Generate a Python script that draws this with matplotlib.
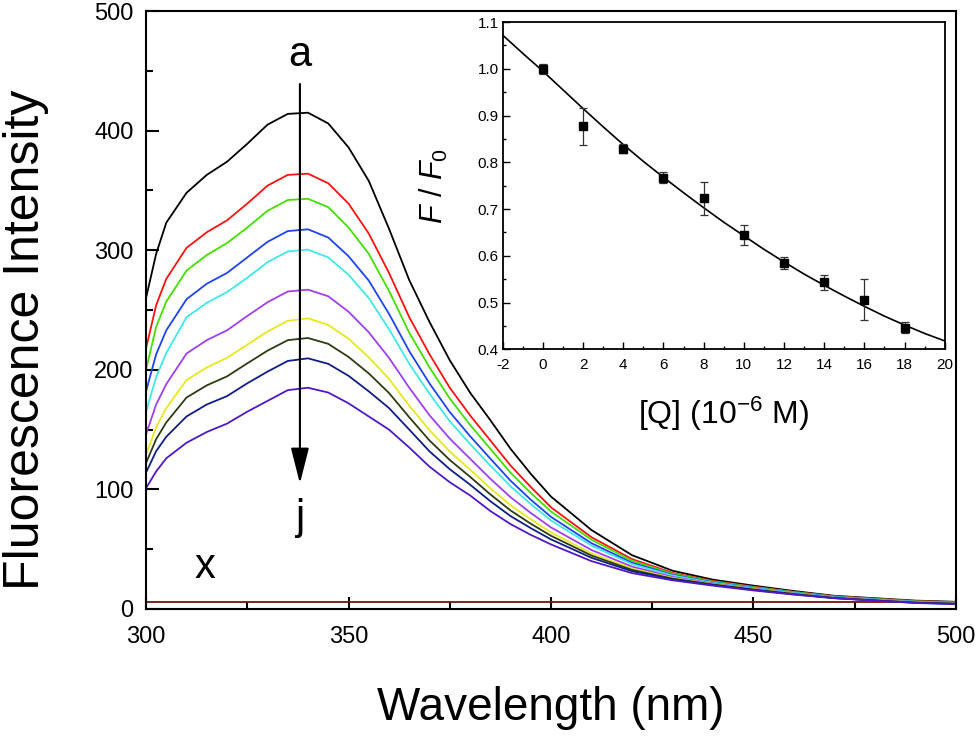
import matplotlib
matplotlib.use('Agg')
import matplotlib.pyplot as plt
from matplotlib.ticker import MultipleLocator, FormatStrFormatter

plt.rcParams['font.family'] = ['Liberation Sans', 'DejaVu Sans']
plt.rcParams['mathtext.fontset'] = 'custom'
plt.rcParams['mathtext.rm'] = 'Liberation Sans'
plt.rcParams['mathtext.it'] = 'Liberation Sans:italic'
plt.rcParams['axes.unicode_minus'] = False

# 스펙트럼 데이터
wavelength = [300, 302.5, 305, 310, 315, 320, 325, 330, 335, 340, 345, 350, 355, 360, 365, 370,
              375, 380, 385, 390, 395, 400, 410, 420, 430, 440, 450, 460, 470, 480, 490, 500]

spec_a = [260, 297, 323, 348, 363, 374, 389, 405, 414, 415, 406, 386, 358, 318, 275, 240,
          208, 181, 158, 134, 113, 94, 66, 45, 32, 24.5, 19.5, 15, 11, 9, 7, 6]
spec_b = [218, 254, 276, 302, 315, 325, 339, 354, 363, 364, 356, 339, 314, 281, 244, 213,
          185, 162, 141, 120, 102, 85, 60, 41.7, 30.2, 23.4, 18.6, 14.3, 10.6, 8.6, 6.6, 5.7]
spec_c = [200, 236, 257, 283, 296, 306, 319, 333, 342, 343, 336, 319, 297, 266, 231, 202,
          176, 154, 134, 114, 97, 81.5, 57.9, 40.3, 29.5, 23, 18.3, 14.1, 10.4, 8.4, 6.4, 5.5]
spec_d = [182, 213, 233, 259, 272, 281, 294, 307, 316, 317.5, 310.6, 295, 274.6, 246.8, 215.6, 188.6,
          164.7, 144.6, 125.8, 107.3, 91.4, 77, 55, 38.7, 28.6, 22.4, 17.8, 13.7, 10.1, 8.1, 6.1, 5.2]
spec_e = [165, 194, 214, 244, 256, 265, 277, 290, 299, 300.5, 294, 279.5, 260, 234, 205, 180,
          157, 138, 120, 102.6, 87.7, 74, 53, 37.5, 28, 22, 17.5, 13.5, 9.9, 7.9, 6, 5.1]
spec_f = [146, 171, 188, 213.6, 224.8, 233, 245, 256.5, 265.5, 267, 261.5, 248.6, 231.4, 210, 185, 162,
          142.5, 125.7, 109, 93.5, 80.3, 68.2, 49.3, 35.4, 26.8, 21.3, 17, 13, 9.6, 7.6, 5.7, 4.8]
spec_g = [129, 152, 168, 191.4, 202, 210, 221, 232, 241, 243, 237.5, 226, 210.5, 192.4, 170, 149.5,
          131.7, 116.6, 101, 86.8, 75, 64, 46.5, 33.8, 26, 20.8, 16.6, 12.7, 9.3, 7.4, 5.5, 4.6]
spec_h = [122, 142, 156, 176.8, 187, 194.5, 205.4, 216, 224.8, 226.6, 221.7, 210.8, 197, 180.6, 160.3, 140.9,
          124.6, 110.6, 95.9, 82.4, 71.3, 61.2, 44.7, 32.7, 25.4, 20.5, 16.3, 12.5, 9.2, 7.2, 5.4, 4.5]
spec_i = [114, 132, 144, 161, 171, 178, 188.7, 198.5, 207.4, 209.6, 205, 195, 182, 168, 150, 131.8,
          116.9, 104, 90.2, 77.7, 67.6, 58.2, 42.8, 31.6, 24.8, 20.1, 16, 12.3, 9.1, 7.1, 5.2, 4.3]
spec_j = [101, 115, 126, 139, 148, 155, 165, 174, 183, 185, 181, 172, 161, 150, 135, 119,
          106, 95, 82, 71, 62, 54, 40, 30, 24, 19.5, 15.5, 12, 9, 7, 5, 4]

# x 곡선 (평탄한 선)
x_wavelength = [300, 400, 500]
x_intensity = [6, 6, 6]

# 인셋 데이터
conc = [0, 2, 4, 6, 8, 10, 12, 14, 16, 18]
ratio = [1.0, 0.877, 0.829, 0.767, 0.723, 0.645, 0.584, 0.544, 0.506, 0.446]
ratio_err = [0.01, 0.04, 0.01, 0.012, 0.035, 0.021, 0.013, 0.016, 0.044, 0.012]
fit_conc = [-2, -1, 0, 1, 2, 3, 4, 5, 6, 7, 8, 9, 10, 11, 12, 13, 14, 15, 16, 17, 18, 19, 20]
fit_ratio = [1.072, 1.033, 0.995, 0.955, 0.915, 0.876, 0.838, 0.802, 0.768, 0.735, 0.703, 0.672,
             0.643, 0.614, 0.587, 0.561, 0.537, 0.514, 0.492, 0.471, 0.452, 0.434, 0.418]

spectra = [spec_a, spec_b, spec_c, spec_d, spec_e, spec_f, spec_g, spec_h, spec_i, spec_j]
colors = ['#000000', '#ff1010', '#44e000', '#1f44f0', '#40e8e8', '#a040f0',
          '#e8e820', '#2e3d10', '#101e88', '#5018c8']

fig = plt.figure(figsize=(9.8, 7.37), dpi=100)
ax = fig.add_axes([0.149, 0.1737, 0.8265, 0.8113])

ax.plot(x_wavelength, x_intensity, color='#7a1010', lw=1.3)
for s, c in zip(spectra, colors):
    ax.plot(wavelength, s, color=c, lw=1.3)

ax.set_xlim(300, 500)
ax.set_ylim(0, 500)
ax.xaxis.set_major_locator(MultipleLocator(50))
ax.xaxis.set_minor_locator(MultipleLocator(25))
ax.yaxis.set_major_locator(MultipleLocator(100))
ax.yaxis.set_minor_locator(MultipleLocator(50))
ax.tick_params(which='both', direction='in', width=1.5)
ax.tick_params(which='major', length=9, labelsize=17)
ax.tick_params(which='minor', length=5)
ax.tick_params(axis='x', pad=12)
ax.tick_params(axis='y', pad=9)
for sp in ax.spines.values():
    sp.set_linewidth(1.5)

ax.set_xlabel('Wavelength (nm)', fontsize=33)
ax.set_ylabel('Fluorescence Intensity', fontsize=36)
ax.xaxis.set_label_coords(0.5, -0.128)
ax.yaxis.set_label_coords(-0.12, 0.45)

# 화살표와 라벨
ax.annotate('', xy=(338, 105), xytext=(338, 439),
            arrowprops=dict(arrowstyle='-|>,head_length=1.1,head_width=0.28',
                            color='black', lw=1.5, mutation_scale=20,
                            shrinkA=0, shrinkB=0))
ax.text(338, 463, 'a', fontsize=30, ha='center', va='center')
ax.text(338, 76, 'j', fontsize=30, ha='center', va='center')
ax.text(314.6, 35, 'x', fontsize=30, ha='center', va='center')

# 인셋
ins = fig.add_axes([0.513, 0.526, 0.451, 0.444])
ins.plot(fit_conc, fit_ratio, color='black', lw=1.2)
ins.errorbar(conc, ratio, yerr=ratio_err, fmt='s', color='black', ms=5.5,
             ecolor='#333333', elinewidth=0.9, capsize=3, capthick=0.9)
ins.set_xlim(-2, 20)
ins.set_ylim(0.4, 1.1)
ins.xaxis.set_major_locator(MultipleLocator(2))
ins.xaxis.set_minor_locator(MultipleLocator(1))
ins.yaxis.set_major_locator(MultipleLocator(0.1))
ins.yaxis.set_minor_locator(MultipleLocator(0.05))
ins.yaxis.set_major_formatter(FormatStrFormatter('%.1f'))
ins.tick_params(which='both', direction='in', width=1.0, labelsize=11)
ins.tick_params(which='major', length=5)
ins.tick_params(which='minor', length=2.5)
ins.tick_params(axis='x', pad=6)
ins.tick_params(axis='y', pad=3)
for sp in ins.spines.values():
    sp.set_linewidth(1.3)
ins.set_xlabel('[Q] (10$^{-6}$ M)', fontsize=23)
ins.set_ylabel(r'$F$ / $F_{\rm 0}$', fontsize=22)
ins.xaxis.set_label_coords(0.5, -0.14)
ins.yaxis.set_label_coords(-0.12, 0.5)

fig.savefig('out.png', dpi=100)
